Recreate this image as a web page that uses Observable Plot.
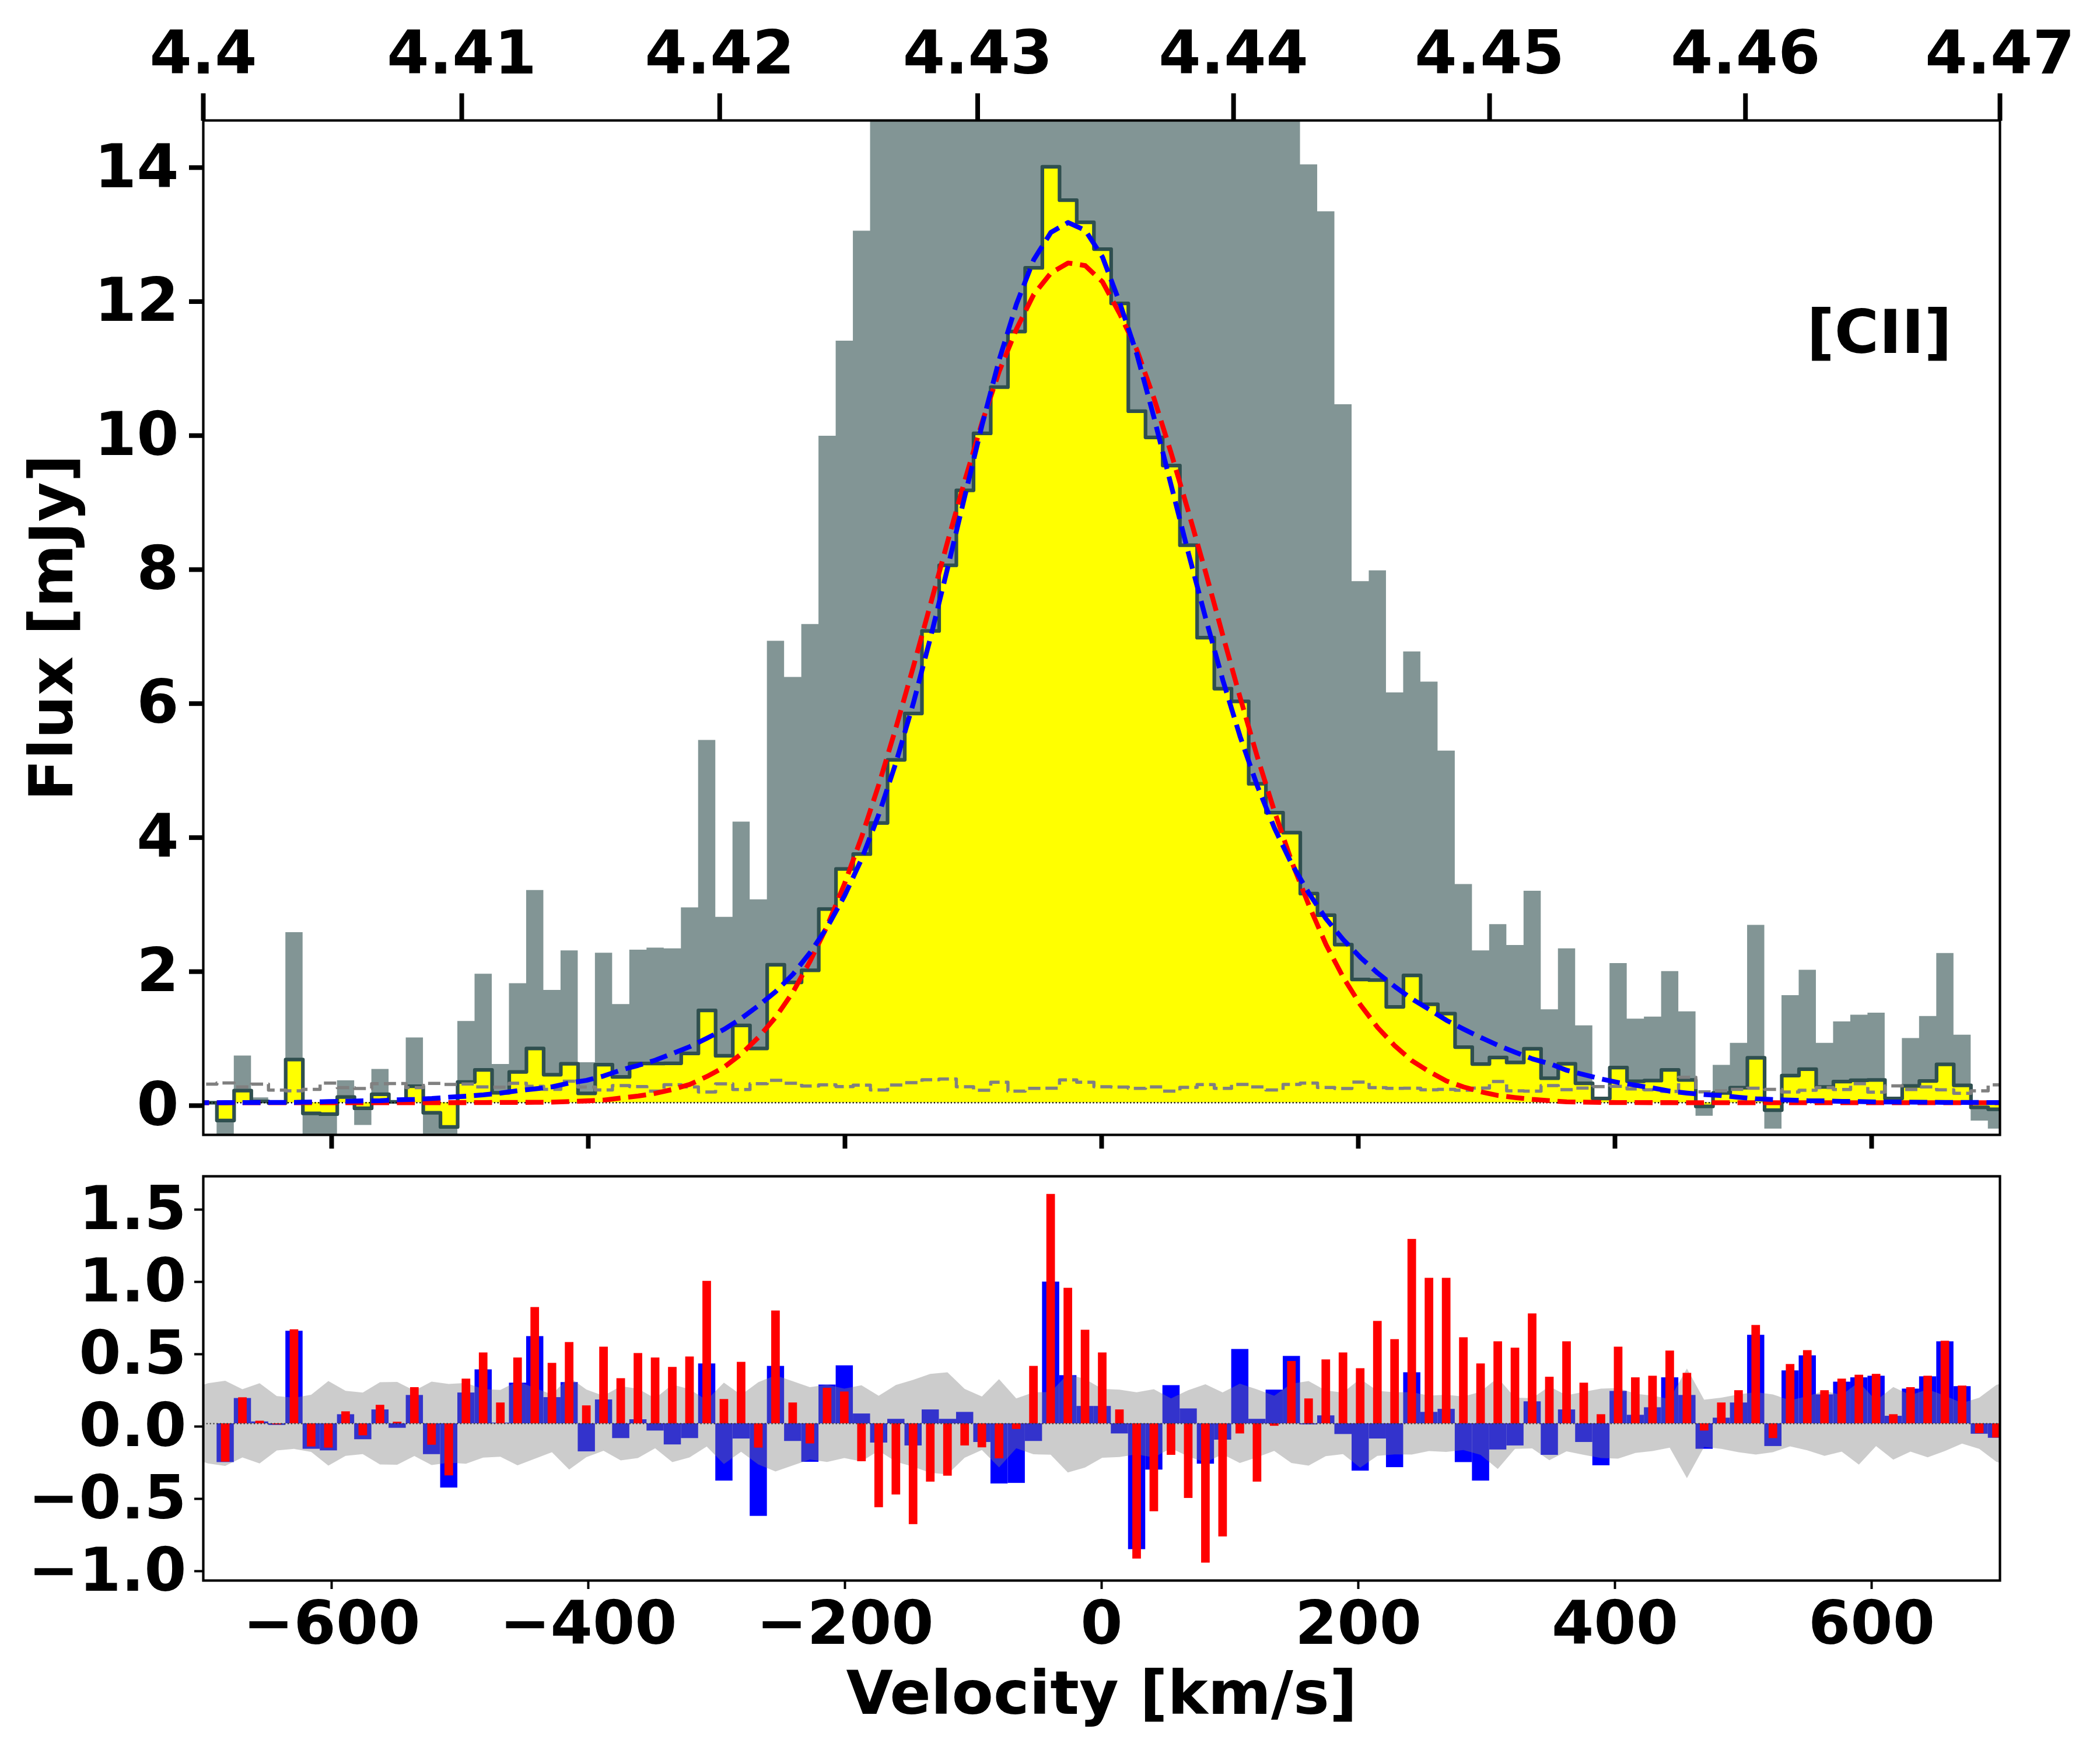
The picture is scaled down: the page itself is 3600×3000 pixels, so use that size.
<!DOCTYPE html>
<html><head><meta charset="utf-8">
<script src="https://cdn.jsdelivr.net/npm/d3@7"></script>
<script src="https://cdn.jsdelivr.net/npm/@observablehq/plot@0.6"></script>
<style>
html,body{margin:0;padding:0;background:#fff;}
#page{position:relative;width:3600px;height:3000px;overflow:hidden;background:#fff;}
#page>div{position:absolute;left:0;}
svg{display:block;}
</style></head><body><div id="page"><div id="a" style="top:0"></div><div id="b" style="top:1980px"></div></div>
<script>
const velocity=[-709.5,-696.1,-682.7,-669.3,-655.9,-642.5,-629.1,-615.7,-602.3,-588.9,-575.5,-562.1,-548.7,-535.3,-521.9,-508.5,-495.1,-481.7,-468.3,-454.9,-441.5,-428.1,-414.7,-401.3,-387.9,-374.5,-361.1,-347.7,-334.3,-320.9,-307.5,-294.1,-280.7,-267.3,-253.9,-240.5,-227.1,-213.7,-200.3,-186.9,-173.5,-160.1,-146.7,-133.3,-119.9,-106.5,-93.1,-79.7,-66.3,-52.9,-39.5,-26.1,-12.7,0.7,14.1,27.5,40.9,54.3,67.7,81.1,94.5,107.9,121.3,134.7,148.1,161.5,174.9,188.3,201.7,215.1,228.5,241.9,255.3,268.7,282.1,295.5,308.9,322.3,335.7,349.1,362.5,375.9,389.3,402.7,416.1,429.5,442.9,456.3,469.7,483.1,496.5,509.9,523.3,536.7,550.1,563.5,576.9,590.3,603.7,617.1,630.5,643.9,657.3,670.7,684.1,697.5,710.9];
const flux=[0,0,-.265,.18,.02,-.005,.645,-.16,-.17,.085,-.083,.127,.012,.245,-.15,-.362,.31,.49,.148,.46,.81,.418,.58,.14,.567,.385,.585,.585,.588,.735,1.377,.70,1.154,.81,2.058,1.796,1.976,2.89,3.49,3.71,4.175,5.117,5.81,7.04,8.02,9.14,9.99,10.68,11.51,12.46,13.97,13.47,13.14,12.74,11.93,10.32,9.93,9.51,8.32,6.94,6.18,5.99,4.76,4.33,4.03,3.12,2.80,2.36,1.84,1.83,1.43,1.90,1.47,1.33,.83,.577,.675,.60,.806,.365,.58,.29,.064,.525,.32,.33,.49,.34,-.055,.145,.225,.67,-.11,.405,.5,.235,.315,.335,.34,.064,.25,.325,.573,.26,-.07,-.097,-.1];
const wideFlux=[0,0,-.6,.70,.075,0,2.54,-.6,-.6,.33,-.336,.50,.02,.97,-.6,-.6,1.215,1.92,.574,1.78,3.17,1.68,2.27,.60,2.234,1.468,2.28,2.31,2.30,2.91,5.41,2.77,4.19,3.03,6.89,6.35,7.14,9.95,11.37,13.01,15.2,15.2,15.2,15.2,15.2,15.2,15.2,15.2,15.2,15.2,15.2,15.2,15.2,15.2,15.2,15.2,15.2,15.2,15.2,15.2,15.2,15.2,15.2,15.2,15.2,14.0,13.3,10.42,7.78,7.94,6.12,6.73,6.28,5.25,3.26,2.27,2.66,2.35,3.16,1.39,2.30,1.15,.06,2.08,1.25,1.28,1.96,1.36,-.2,.56,.89,2.65,-.39,1.6,1.98,.89,1.21,1.31,1.34,.06,.96,1.29,2.23,1.01,-.27,-.39,-.39];
const noise=[.24,.277,.294,.236,.277,.188,.177,.198,.292,.225,.213,.284,.286,.226,.288,.272,.279,.237,.231,.29,.245,.2,.32,.234,.19,.256,.24,.172,.268,.236,.16,.281,.197,.284,.333,.291,.25,.267,.24,.263,.19,.265,.3,.342,.353,.238,.185,.305,.172,.214,.217,.34,.306,.238,.233,.215,.236,.172,.229,.27,.214,.274,.235,.191,.274,.292,.227,.213,.307,.225,.215,.216,.192,.198,.185,.218,.316,.177,.174,.255,.194,.218,.24,.244,.205,.192,.168,.379,.163,.177,.2,.216,.2,.159,.187,.225,.196,.285,.157,.251,.196,.235,.192,.14,.177,.266,.3];
const blueFit=[0,0,.001,.002,.003,.004,.005,.01,.017,.022,.027,.031,.043,.05,.063,.082,.097,.117,.143,.179,.207,.237,.295,.334,.40,.487,.557,.635,.734,.837,.963,1.096,1.26,1.45,1.66,1.918,2.242,2.622,3.089,3.642,4.308,5.086,5.963,6.944,7.989,9.061,10.119,11.096,11.922,12.582,12.99,13.137,13.02,12.62,11.94,11.17,10.22,9.206,8.197,7.229,6.303,5.466,4.729,4.097,3.564,3.127,2.745,2.434,2.167,1.935,1.733,1.547,1.391,1.23,1.098,.973,.856,.753,.654,.583,.484,.419,.354,.301,.261,.219,.172,.144,.121,.106,.081,.058,.047,.039,.03,.027,.02,.017,.011,.01,.009,.006,.005,.004,.003,.002,0];
const redFit=[0,0,0,0,0,0,0,0,0,0,0,0,0,0,.001,.001,.001,.002,.004,.005,.006,.008,.018,.027,.04,.07,.1,.14,.198,.273,.392,.532,.729,.978,1.278,1.652,2.115,2.644,3.27,3.972,4.755,5.609,6.507,7.443,8.382,9.293,10.156,10.922,11.549,12.063,12.384,12.533,12.493,12.25,11.774,11.235,10.508,9.688,8.816,7.913,6.972,6.05,5.163,4.347,3.599,2.948,2.358,1.87,1.459,1.122,.848,.625,.464,.324,.235,.163,.108,.077,.05,.03,.013,.009,.004,.002,.002,.001,.001,0,0,0,0,0,0,0,0,0,0,0,0,0,0,0,0,0,0,0,0];
const blueResidual=[0,0,-.268,.175,.013,-.011,.64,-.176,-.187,.063,-.11,.096,-.031,.196,-.213,-.444,.213,.373,.005,.281,.603,.181,.285,-.194,.165,-.102,.028,-.05,-.146,-.102,.414,-.396,-.105,-.64,.397,-.122,-.266,.268,.401,.068,-.133,.031,-.153,.096,.031,.079,-.129,-.416,-.412,-.122,.98,.333,.12,.12,-.07,-.87,-.32,.264,.103,-.279,-.113,.514,.031,.233,.466,-.007,.055,-.074,-.327,-.105,-.303,.353,.079,.1,-.268,-.396,-.181,-.153,.152,-.218,.096,-.129,-.29,.224,.059,.111,.318,.196,-.176,.039,.144,.612,-.157,.366,.47,.2,.288,.318,.329,.052,.24,.325,.567,.257,-.072,-.1,0];
const redResidual=[0,0,-.265,.18,.018,-.007,.65,-.16,-.168,.083,-.083,.128,.011,.25,-.148,-.36,.309,.49,.144,.455,.804,.418,.562,.124,.53,.312,.486,.455,.39,.462,.985,.168,.425,-.168,.78,.144,-.139,.246,.22,-.262,-.58,-.492,-.697,-.403,-.362,-.153,-.166,-.242,-.039,.397,1.586,.937,.647,.49,.096,-.935,-.608,-.218,-.516,-.963,-.782,-.07,-.403,-.017,.431,.172,.442,.49,.381,.708,.582,1.275,1.006,1.006,.595,.414,.567,.523,.76,.322,.567,.281,.063,.53,.318,.329,.503,.349,-.05,.144,.229,.68,-.102,.41,.506,.229,.309,.336,.342,.063,.25,.329,.571,.261,-.068,-.098,0];
const velocityTicks=[-600,-400,-200,0,200,400,600];
const fluxTicks=[0,2,4,6,8,10,12,14];
const residualTicks=[-1,-.5,0,.5,1,1.5];
const redshiftTickPositions=[-700,-498.6,-297.6,-96.6,102.8,302.3,501.7,700];
const redshiftTickLabels=["4.4","4.41","4.42","4.43","4.44","4.45","4.46","4.47"];
const lineLabel=["[CII]"];

const rows=velocity.map((v,i)=>({v,flux:flux[i],wide:wideFlux[i],noise:noise[i],blue:blueFit[i],red:redFit[i],bRes:blueResidual[i],rRes:redResidual[i]}));
const FS=104, halfBin=6.7, halfRed=3.35;
const common={width:3600,style:{fontFamily:"'DejaVu Sans',sans-serif",fontWeight:"bold",color:"black",background:"white",overflow:"visible"}};
const X={domain:[-700,700]};

const topPanel=Plot.plot({...common,height:1980,marginLeft:348,marginRight:172,marginTop:206,marginBottom:35,x:X,y:{domain:[-.48,14.66]},marks:[
  Plot.areaY(rows,{x:"v",y1:0,y2:"wide",curve:"step",fill:"#2f4f4f",fillOpacity:.6,clip:true}),
  Plot.areaY(rows,{x:"v",y1:0,y2:"flux",curve:"step",fill:"#ffff00",clip:true}),
  Plot.lineY(rows,{x:"v",y:"flux",curve:"step",stroke:"#2f4f4f",strokeWidth:6.25,strokeLinejoin:"round",clip:true}),
  Plot.ruleY([0],{stroke:"black",strokeWidth:2.2,strokeDasharray:"2.2,3.6",clip:true}),
  Plot.lineY(rows,{x:"v",y:"noise",curve:"step",stroke:"gray",strokeWidth:5.5,strokeDasharray:"21,9",strokeLinecap:"butt",clip:true}),
  Plot.lineY(rows,{x:"v",y:"red",stroke:"#ff0000",strokeWidth:8.3,strokeDasharray:"30.8,13.3",strokeLinecap:"butt",strokeLinejoin:"round",clip:true}),
  Plot.lineY(rows,{x:"v",y:"blue",stroke:"#0000ff",strokeWidth:8.3,strokeDasharray:"30.8,13.3",strokeLinecap:"butt",strokeLinejoin:"round",clip:true}),
  Plot.text(lineLabel,{x:[606],y:[11.48],fontSize:FS,fontWeight:"bold",fill:"black"}),
  Plot.axisY({ticks:fluxTicks,tickSize:24,strokeWidth:8,tickPadding:18,fontSize:FS,fontWeight:"bold",dy:5,tickFormat:d=>String(d),label:"Flux [mJy]",labelArrow:"none",labelAnchor:"center",labelOffset:298}),
  Plot.axisX({anchor:"bottom",ticks:velocityTicks,tickSize:24,strokeWidth:8,tickFormat:()=>"",label:null}),
  Plot.axisX({anchor:"top",ticks:redshiftTickPositions,tickSize:47,strokeWidth:8,tickPadding:34,fontSize:FS,fontWeight:"bold",tickFormat:d=>redshiftTickLabels[redshiftTickPositions.indexOf(d)],label:null}),
  Plot.frame({stroke:"black",strokeWidth:4.2})
]});
document.getElementById("a").append(topPanel);

const bottomPanel=Plot.plot({...common,height:1020,marginLeft:348,marginRight:172,marginTop:36,marginBottom:291,x:X,y:{domain:[-1.085,1.71]},marks:[
  Plot.rectY(rows,{x1:d=>d.v-halfBin,x2:d=>d.v+halfBin,y1:0,y2:"bRes",fill:"#0000ff",clip:true}),
  Plot.areaY(rows,{x:"v",y1:d=>-d.noise,y2:"noise",fill:"gray",fillOpacity:.4,clip:true}),
  Plot.rectY(rows,{x1:d=>d.v-halfRed,x2:d=>d.v+halfRed,y1:0,y2:"rRes",fill:"#ff0000",clip:true}),
  Plot.ruleY([0],{stroke:"#333",strokeWidth:2.2,strokeDasharray:"2.2,3.6",clip:true}),
  Plot.axisY({ticks:residualTicks,tickSize:15,strokeWidth:4,tickPadding:14,fontSize:FS,fontWeight:"bold",dy:5,tickFormat:d=>d3.format(".1f")(d),label:null}),
  Plot.axisX({anchor:"bottom",ticks:velocityTicks,tickSize:15,strokeWidth:4,tickPadding:20,fontSize:FS,fontWeight:"bold",tickFormat:d=>d3.format("d")(d),label:"Velocity [km/s]",labelArrow:"none",labelAnchor:"center",labelOffset:228}),
  Plot.frame({stroke:"black",strokeWidth:4.2})
]});
document.getElementById("b").append(bottomPanel);
</script></body></html>
